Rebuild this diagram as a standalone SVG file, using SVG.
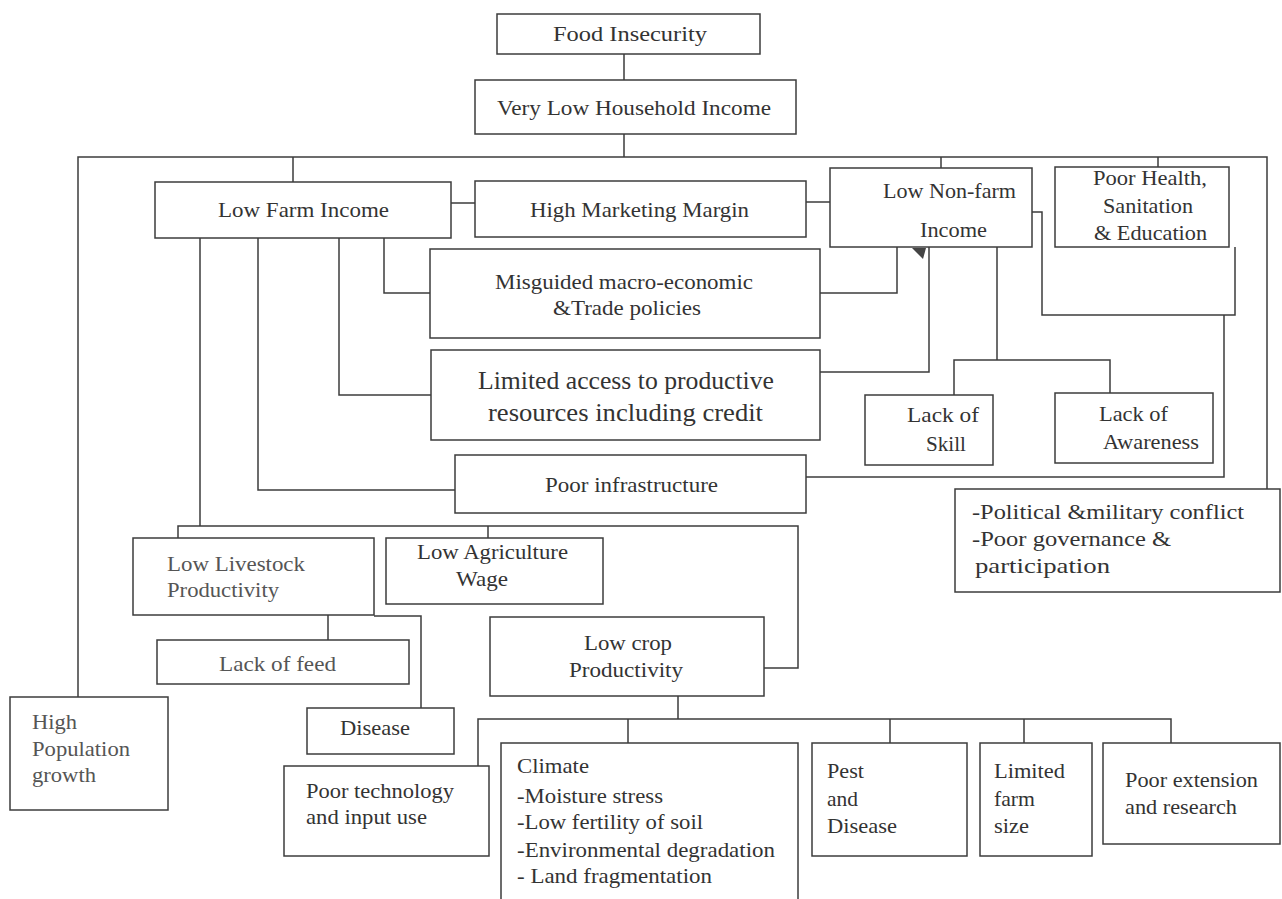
<svg xmlns="http://www.w3.org/2000/svg" width="1282" height="899" viewBox="0 0 1282 899">
<style>
.b{fill:#fff;stroke:#3c3c3c;stroke-width:1.5}
.c{fill:none;stroke:#3c3c3c;stroke-width:1.5}
.t{font-family:"Liberation Serif","Times New Roman",serif;font-size:22px;fill:#333}
.l{fill:#555}
.big{font-size:25px}
</style>
<rect width="1282" height="899" fill="#fff"/>
<g id="connectors">
<path class="c" d="M624 54V80M624 134V157M78 697V157H1267V489M293 157V182M941 157V168M1158 157V167M451 203H475M806 202H830"/>
<path class="c" d="M384 238V293H430M339 238V395H431M258 238V490H455M200 238V526M178 538V526H798V668H764M488 526V538"/>
<path class="c" d="M820 293H897V247M820 372H929V247M997 247V360M954 395V360H1110V393M1032 212H1042V315H1235V247M806 477H1224V315"/>
<path class="c" d="M328 615V640M374 616H421V708M678 696V719M478 766V719H1171V743M628 719V743M890 719V743M1024 719V743"/>
<polygon points="912,248 926,248 923,259" fill="#444"/>
</g>
<g id="food-insecurity"><rect class="b" x="497" y="14" width="263" height="40"/><text class="t" x="553" y="41" textLength="154" lengthAdjust="spacingAndGlyphs">Food Insecurity</text></g>
<g id="very-low-income"><rect class="b" x="475" y="80" width="321" height="54"/><text class="t" x="497" y="115" textLength="274" lengthAdjust="spacingAndGlyphs">Very Low Household Income</text></g>
<g id="low-farm-income"><rect class="b" x="155" y="182" width="296" height="56"/><text class="t" x="218" y="217" textLength="171" lengthAdjust="spacingAndGlyphs">Low Farm Income</text></g>
<g id="high-marketing"><rect class="b" x="475" y="181" width="331" height="56"/><text class="t" x="530" y="217" textLength="219" lengthAdjust="spacingAndGlyphs">High Marketing Margin</text></g>
<g id="low-nonfarm"><rect class="b" x="830" y="168" width="202" height="79"/><text class="t" x="883" y="198" textLength="133" lengthAdjust="spacingAndGlyphs">Low Non-farm</text><text class="t" x="920" y="237" textLength="67" lengthAdjust="spacingAndGlyphs">Income</text></g>
<g id="poor-health"><rect class="b" x="1055" y="167" width="174" height="80"/><text class="t" x="1093" y="185" textLength="114" lengthAdjust="spacingAndGlyphs">Poor Health,</text><text class="t" x="1103" y="213" textLength="90" lengthAdjust="spacingAndGlyphs">Sanitation</text><text class="t" x="1094" y="240" textLength="113" lengthAdjust="spacingAndGlyphs">&amp; Education</text></g>
<g id="misguided"><rect class="b" x="430" y="249" width="390" height="89"/><text class="t" x="495" y="289" textLength="258" lengthAdjust="spacingAndGlyphs">Misguided macro-economic</text><text class="t" x="553" y="315" textLength="148" lengthAdjust="spacingAndGlyphs">&amp;Trade policies</text></g>
<g id="limited-access"><rect class="b" x="431" y="350" width="389" height="90"/><text class="t big" x="478" y="389" textLength="296" lengthAdjust="spacingAndGlyphs">Limited access to productive</text><text class="t big" x="488" y="421" textLength="275" lengthAdjust="spacingAndGlyphs">resources including credit</text></g>
<g id="poor-infrastructure"><rect class="b" x="455" y="455" width="351" height="58"/><text class="t" x="545" y="492" textLength="173" lengthAdjust="spacingAndGlyphs">Poor infrastructure</text></g>
<g id="lack-skill"><rect class="b" x="865" y="395" width="128" height="70"/><text class="t" x="907" y="422" textLength="72" lengthAdjust="spacingAndGlyphs">Lack of</text><text class="t" x="926" y="451" textLength="40" lengthAdjust="spacingAndGlyphs">Skill</text></g>
<g id="lack-awareness"><rect class="b" x="1055" y="393" width="158" height="70"/><text class="t" x="1099" y="421" textLength="69" lengthAdjust="spacingAndGlyphs">Lack of</text><text class="t" x="1103" y="449" textLength="96" lengthAdjust="spacingAndGlyphs">Awareness</text></g>
<g id="political"><rect class="b" x="955" y="489" width="325" height="103"/><text class="t" x="972" y="519" textLength="272" lengthAdjust="spacingAndGlyphs">-Political &amp;military conflict</text><text class="t" x="972" y="546" textLength="199" lengthAdjust="spacingAndGlyphs">-Poor governance &amp;</text><text class="t" x="975" y="573" textLength="135" lengthAdjust="spacingAndGlyphs">participation</text></g>
<g id="low-livestock"><rect class="b" x="133" y="538" width="241" height="77"/><text class="t l" x="167" y="571" textLength="138" lengthAdjust="spacingAndGlyphs">Low Livestock</text><text class="t l" x="167" y="597" textLength="112" lengthAdjust="spacingAndGlyphs">Productivity</text></g>
<g id="low-agri-wage"><rect class="b" x="386" y="538" width="217" height="66"/><text class="t" x="417" y="559" textLength="151" lengthAdjust="spacingAndGlyphs">Low Agriculture</text><text class="t" x="456" y="586" textLength="52" lengthAdjust="spacingAndGlyphs">Wage</text></g>
<g id="lack-feed"><rect class="b" x="157" y="640" width="252" height="44"/><text class="t l" x="219" y="671" textLength="117" lengthAdjust="spacingAndGlyphs">Lack of feed</text></g>
<g id="disease"><rect class="b" x="307" y="708" width="147" height="46"/><text class="t" x="340" y="735" textLength="70" lengthAdjust="spacingAndGlyphs">Disease</text></g>
<g id="low-crop"><rect class="b" x="490" y="617" width="274" height="79"/><text class="t" x="584" y="650" textLength="88" lengthAdjust="spacingAndGlyphs">Low crop</text><text class="t" x="569" y="677" textLength="114" lengthAdjust="spacingAndGlyphs">Productivity</text></g>
<g id="high-population"><rect class="b" x="10" y="697" width="158" height="113"/><text class="t l" x="32" y="729" textLength="45" lengthAdjust="spacingAndGlyphs">High</text><text class="t l" x="32" y="756" textLength="98" lengthAdjust="spacingAndGlyphs">Population</text><text class="t l" x="32" y="782" textLength="64" lengthAdjust="spacingAndGlyphs">growth</text></g>
<g id="poor-technology"><rect class="b" x="284" y="766" width="205" height="90"/><text class="t" x="306" y="798" textLength="148" lengthAdjust="spacingAndGlyphs">Poor technology</text><text class="t" x="306" y="824" textLength="121" lengthAdjust="spacingAndGlyphs">and input use</text></g>
<g id="climate"><rect class="b" x="501" y="743" width="297" height="170"/><text class="t" x="517" y="773" textLength="72" lengthAdjust="spacingAndGlyphs">Climate</text><text class="t" x="517" y="803" textLength="146" lengthAdjust="spacingAndGlyphs">-Moisture stress</text><text class="t" x="517" y="829" textLength="186" lengthAdjust="spacingAndGlyphs">-Low fertility of soil</text><text class="t" x="517" y="857" textLength="258" lengthAdjust="spacingAndGlyphs">-Environmental degradation</text><text class="t" x="517" y="883" textLength="195" lengthAdjust="spacingAndGlyphs">- Land fragmentation</text></g>
<g id="pest-disease"><rect class="b" x="812" y="743" width="155" height="113"/><text class="t" x="827" y="778" textLength="37" lengthAdjust="spacingAndGlyphs">Pest</text><text class="t" x="827" y="806" textLength="31" lengthAdjust="spacingAndGlyphs">and</text><text class="t" x="827" y="833" textLength="70" lengthAdjust="spacingAndGlyphs">Disease</text></g>
<g id="limited-farm"><rect class="b" x="980" y="743" width="112" height="113"/><text class="t" x="994" y="778" textLength="71" lengthAdjust="spacingAndGlyphs">Limited</text><text class="t" x="994" y="806" textLength="41" lengthAdjust="spacingAndGlyphs">farm</text><text class="t" x="994" y="833" textLength="35" lengthAdjust="spacingAndGlyphs">size</text></g>
<g id="poor-extension"><rect class="b" x="1103" y="743" width="177" height="101"/><text class="t" x="1125" y="787" textLength="133" lengthAdjust="spacingAndGlyphs">Poor extension</text><text class="t" x="1125" y="814" textLength="112" lengthAdjust="spacingAndGlyphs">and research</text></g>
</svg>
